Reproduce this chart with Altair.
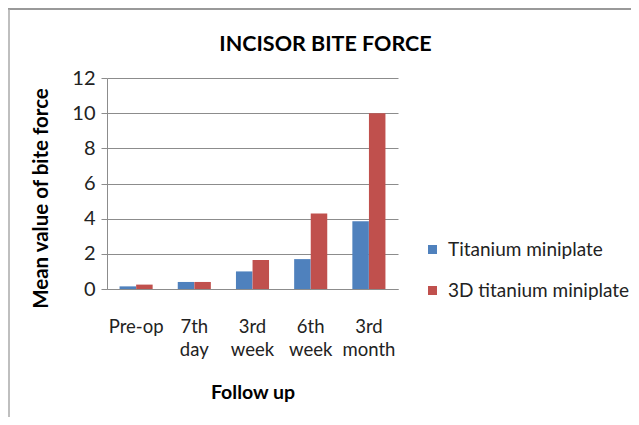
import altair as alt
import pandas as pd

categories = ["Pre-op", "7th day", "3rd week", "6th week", "3rd month"]
series = ["Titanium miniplate", "3D titanium miniplate"]
titanium = [0.15, 0.4, 1.0, 1.7, 3.85]
titanium_3d = [0.25, 0.4, 1.65, 4.3, 10.0]
colors = ["#4F81BD", "#C0504D"]

rows = []
for c, a, b in zip(categories, titanium, titanium_3d):
    rows.append({"cat": c, "series": series[0], "value": a})
    rows.append({"cat": c, "series": series[1], "value": b})
df = pd.DataFrame(rows)

FONT = "Lato"

bars = alt.Chart(df).mark_bar(size=16.5).encode(
    x=alt.X("cat:N", sort=categories, title="Follow up",
            scale=alt.Scale(paddingInner=0.43, paddingOuter=0.215),
            axis=alt.Axis(labelAngle=0, ticks=False, labelFontSize=18.5,
                          labelExpr="split(datum.label, ' ')",
                          labelLineHeight=23, labelPadding=28,
                          labelColor="#222", titleFontSize=19.5,
                          titleFontWeight="bold", titlePadding=25,
                          domainColor="#8c8c8c", titleColor="#000",
                          labelFont=FONT, titleFont=FONT)),
    xOffset=alt.XOffset("series:N", sort=series,
                        scale=alt.Scale(paddingInner=0, paddingOuter=0)),
    y=alt.Y("value:Q", title="Mean value of bite force",
            scale=alt.Scale(domain=[0, 12]),
            axis=alt.Axis(values=[0, 2, 4, 6, 8, 10, 12], tickSize=6,
                          labelFontSize=20, labelPadding=6, labelColor="#222",
                          titleFontSize=20.5, titleFontWeight="bold",
                          titlePadding=20, titleColor="#000", titleY=120,
                          gridColor="#8c8c8c", tickColor="#8c8c8c",
                          domainColor="#8c8c8c", labelFont=FONT,
                          titleFont=FONT)),
    color=alt.Color("series:N", sort=series,
                    scale=alt.Scale(domain=series, range=colors),
                    legend=alt.Legend(title=None, orient="none",
                                      legendX=316, legendY=162,
                                      symbolType="square", symbolSize=81,
                                      symbolStrokeWidth=0, labelLimit=300,
                                      labelFontSize=19, labelFont=FONT,
                                      labelColor="#222", rowPadding=21,
                                      labelOffset=6)),
)

frame_df = pd.DataFrame({"k": [0]})
top_line = alt.Chart(frame_df).mark_rule(color="#999999", strokeWidth=2).encode(
    x=alt.value(-99), x2=alt.value(524), y=alt.value(-69))
left_line = alt.Chart(frame_df).mark_rule(color="#aaaaaa", strokeWidth=1.5).encode(
    x=alt.value(-98), y=alt.value(-69), y2=alt.value(339))

chart = alt.layer(bars, top_line, left_line).properties(
    width=291, height=211,
    title=alt.TitleParams("INCISOR BITE FORCE", fontSize=21.5, font=FONT,
                          fontWeight="bold", color="#000", anchor="middle",
                          frame="group", dx=73, offset=-47),
    autosize=alt.AutoSizeParams(type="none"),
    padding={"left": 99, "top": 70, "right": 233, "bottom": 128},
).configure_view(stroke=None)

chart.save("out.html", embed_options={"renderer": "svg", "actions": False})
